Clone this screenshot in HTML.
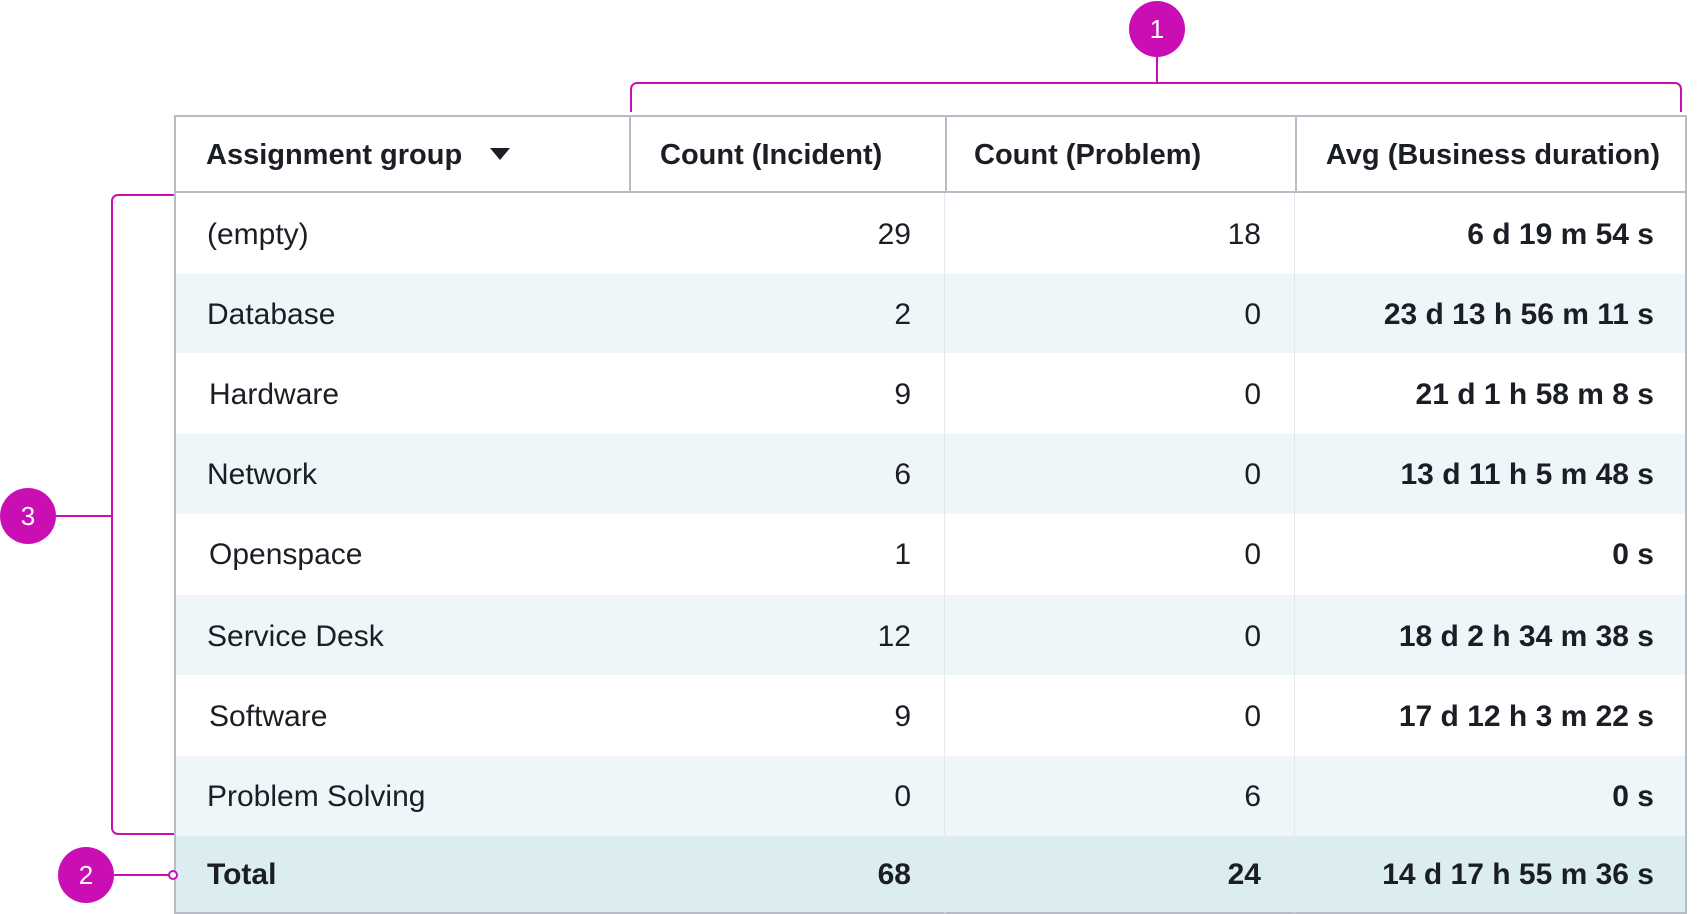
<!DOCTYPE html>
<html><head><meta charset="utf-8"><style>
body{margin:0;width:1704px;height:914px;background:#fff;position:relative;overflow:hidden;font-family:"Liberation Sans",sans-serif;color:#1b1e24}
.a{position:absolute}
.t{position:absolute;font-size:30px;line-height:30px;white-space:nowrap}
.b{font-weight:bold}
.h{font-size:29px}
.r{text-align:right}
</style></head><body>
<div class="a" style="left:175px;top:274px;width:1510px;height:79px;background:#eef6f9"></div>
<div class="a" style="left:175px;top:434px;width:1510px;height:80px;background:#eef6f9"></div>
<div class="a" style="left:175px;top:595px;width:1510px;height:80px;background:#eef6f9"></div>
<div class="a" style="left:175px;top:756px;width:1510px;height:80px;background:#eef6f9"></div>
<div class="a" style="left:175px;top:836px;width:1510px;height:77px;background:#dcedf1"></div>
<div class="a" style="left:174px;top:115px;width:1509px;height:795px;border:2px solid #b7bcc6"></div>
<div class="a" style="left:174px;top:191px;width:1513px;height:2px;background:#b7bcc6"></div>
<div class="a" style="left:629px;top:115px;width:2px;height:77px;background:#b7bcc6"></div>
<div class="a" style="left:945px;top:115px;width:2px;height:77px;background:#b7bcc6"></div>
<div class="a" style="left:1295px;top:115px;width:2px;height:77px;background:#b7bcc6"></div>
<div class="a" style="left:944px;top:193px;width:1px;height:720px;background:#e3eaee"></div>
<div class="a" style="left:1294px;top:193px;width:1px;height:720px;background:#e3eaee"></div>
<div class="t b h" style="left:206px;top:140px">Assignment group</div>
<div class="a" style="left:490px;top:148px;width:0;height:0;border-left:10px solid transparent;border-right:10px solid transparent;border-top:12px solid #1b1e24"></div>
<div class="t b h" style="left:660px;top:140px">Count (Incident)</div>
<div class="t b h" style="left:974px;top:140px">Count (Problem)</div>
<div class="t b h r" style="right:44px;top:140px">Avg (Business duration)</div>
<div class="t" style="left:207px;top:220px">(empty)</div><div class="t r" style="right:793px;top:220px">29</div><div class="t r" style="right:443px;top:220px">18</div><div class="t r b" style="right:50px;top:220px">6 d 19 m 54 s</div>
<div class="t" style="left:207px;top:300px">Database</div><div class="t r" style="right:793px;top:300px">2</div><div class="t r" style="right:443px;top:300px">0</div><div class="t r b" style="right:50px;top:300px">23 d 13 h 56 m 11 s</div>
<div class="t" style="left:209px;top:380px">Hardware</div><div class="t r" style="right:793px;top:380px">9</div><div class="t r" style="right:443px;top:380px">0</div><div class="t r b" style="right:50px;top:380px">21 d 1 h 58 m 8 s</div>
<div class="t" style="left:207px;top:460px">Network</div><div class="t r" style="right:793px;top:460px">6</div><div class="t r" style="right:443px;top:460px">0</div><div class="t r b" style="right:50px;top:460px">13 d 11 h 5 m 48 s</div>
<div class="t" style="left:209px;top:540px">Openspace</div><div class="t r" style="right:793px;top:540px">1</div><div class="t r" style="right:443px;top:540px">0</div><div class="t r b" style="right:50px;top:540px">0 s</div>
<div class="t" style="left:207px;top:622px">Service Desk</div><div class="t r" style="right:793px;top:622px">12</div><div class="t r" style="right:443px;top:622px">0</div><div class="t r b" style="right:50px;top:622px">18 d 2 h 34 m 38 s</div>
<div class="t" style="left:209px;top:702px">Software</div><div class="t r" style="right:793px;top:702px">9</div><div class="t r" style="right:443px;top:702px">0</div><div class="t r b" style="right:50px;top:702px">17 d 12 h 3 m 22 s</div>
<div class="t" style="left:207px;top:782px">Problem Solving</div><div class="t r" style="right:793px;top:782px">0</div><div class="t r" style="right:443px;top:782px">6</div><div class="t r b" style="right:50px;top:782px">0 s</div>
<div class="t b" style="left:207px;top:860px">Total</div><div class="t r b" style="right:793px;top:860px">68</div><div class="t r b" style="right:443px;top:860px">24</div><div class="t r b" style="right:50px;top:860px">14 d 17 h 55 m 36 s</div>
<svg class="a" style="left:0;top:0" width="1704" height="914">
<g fill="none" stroke="#c90fb4" stroke-width="2">
<path d="M631 112 V89 a6 6 0 0 1 6 -6 H1675 a6 6 0 0 1 6 6 V112"/>
<path d="M1157 57 V83"/>
<path d="M174 195 H118 a6 6 0 0 0 -6 6 V828 a6 6 0 0 0 6 6 H174"/>
<path d="M56 516 H112"/>
<path d="M114 875 H169"/>
<circle cx="173" cy="875" r="4" fill="#fff"/>
</g>
<g fill="#c90fb4">
<circle cx="1157" cy="29" r="28"/><circle cx="28" cy="516" r="28"/><circle cx="86" cy="875" r="28"/>
</g>
<g fill="#fff" font-family="Liberation Sans, sans-serif" font-size="26" text-anchor="middle">
<text x="1157" y="38">1</text><text x="28" y="525">3</text><text x="86" y="884">2</text>
</g>
</svg>
</body></html>
